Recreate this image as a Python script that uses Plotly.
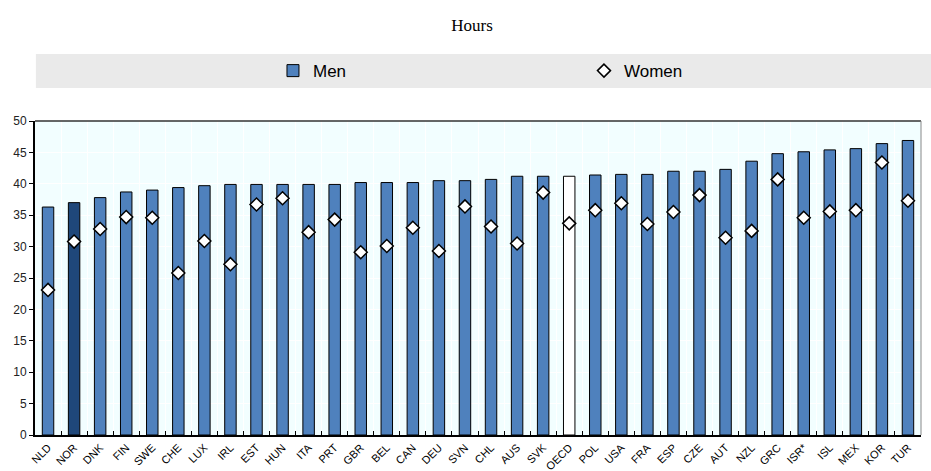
import plotly.graph_objects as go

countries = ["NLD","NOR","DNK","FIN","SWE","CHE","LUX","IRL","EST","HUN","ITA","PRT","GBR","BEL","CAN","DEU","SVN","CHL","AUS","SVK","OECD","POL","USA","FRA","ESP","CZE","AUT","NZL","GRC","ISR*","ISL","MEX","KOR","TUR"]
men = [36.3,37.0,37.8,38.7,39.0,39.4,39.7,39.9,39.9,39.9,39.9,39.9,40.2,40.2,40.2,40.5,40.5,40.7,41.2,41.2,41.2,41.4,41.5,41.5,42.0,42.0,42.3,43.6,44.8,45.1,45.4,45.6,46.4,46.9]
women = [23.1,30.8,32.8,34.7,34.6,25.8,30.9,27.2,36.7,37.7,32.3,34.3,29.1,30.1,33.0,29.3,36.4,33.2,30.5,38.6,33.7,35.8,36.9,33.6,35.5,38.2,31.4,32.5,40.7,34.6,35.6,35.8,43.4,37.3]
y_ticks = [0,5,10,15,20,25,30,35,40,45,50]

BLUE = "#4F81BD"
DARK = "#1F477A"
bar_colors = [DARK if c == "NOR" else ("#FFFFFF" if c == "OECD" else BLUE) for c in countries]

fig = go.Figure()
fig.add_trace(go.Bar(
    x=countries, y=men, name="Men",
    marker=dict(color=bar_colors, line=dict(color="#000000", width=1)),
    legend="legend",
))
fig.add_trace(go.Scatter(
    x=countries, y=women, name="Women", mode="markers",
    marker=dict(symbol="diamond", size=10, color="#FFFFFF", line=dict(color="#000000", width=1.5)),
    legend="legend2",
))

fig.add_shape(type="rect", xref="paper", yref="paper", x0=0.001, x1=1.02, y0=1.105, y1=1.213,
              fillcolor="#EAEAEA", line=dict(width=0), layer="below")

fig.update_layout(
    width=931, height=471,
    margin=dict(l=35, r=10, t=121, b=36, autoexpand=False),
    paper_bgcolor="#FFFFFF",
    plot_bgcolor="#F2FEFF",
    bargap=0.56,
    font=dict(family="Liberation Sans, Arial", size=12, color="#000000"),
    title=dict(text="Hours", x=0.507, xanchor="center", y=0.947, yref="container", yanchor="middle",
               font=dict(family="Liberation Serif, Times New Roman", size=17, color="#000000")),
    legend=dict(x=0.2686, y=1.159, xanchor="left", yanchor="middle", orientation="h",
                bgcolor="rgba(0,0,0,0)", font=dict(size=17), itemwidth=30),
    legend2=dict(x=0.6196, y=1.159, xanchor="left", yanchor="middle", orientation="h",
                 bgcolor="rgba(0,0,0,0)", font=dict(size=17), itemwidth=30),
    showlegend=True,
)
fig.update_xaxes(
    type="category", tickangle=-45, tickfont=dict(size=11), automargin=False,
    tickson="boundaries", ticks="inside", ticklen=4, tickcolor="#000000",
    showgrid=True, gridcolor="#FFFFFF", gridwidth=1,
    showline=True, linecolor="#000000", linewidth=2, mirror=False,
    range=[-0.5, len(countries) - 0.5],
)
fig.update_yaxes(
    range=[0, 50], tickvals=y_ticks, ticks="outside", ticklen=4, tickcolor="#000000",
    showgrid=True, gridcolor="#FFFFFF", gridwidth=1, automargin=False,
    showline=True, linecolor="#000000", linewidth=2, zeroline=False,
    tickfont=dict(size=12, color="#222222"),
)
# top and right borders
fig.add_shape(type="line", xref="paper", yref="paper", x0=0, x1=1, y0=1, y1=1, line=dict(color="#333333", width=1.5))
fig.add_shape(type="line", xref="paper", yref="paper", x0=1, x1=1, y0=0, y1=1, line=dict(color="#888888", width=1))

fig.write_html("out.html", config={"displayModeBar": False},
               post_script="document.body.style.margin='0';document.body.style.overflow='hidden';")
